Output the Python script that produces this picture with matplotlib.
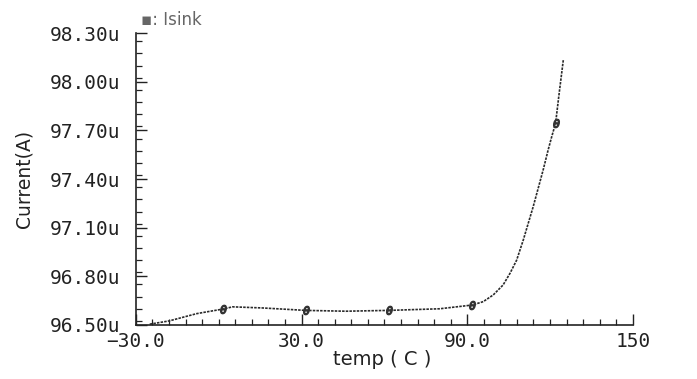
"""
Isink current vs temperature (SPICE-style plot)
"""

import matplotlib
matplotlib.use('Agg')

import matplotlib.pyplot as plt
from matplotlib.ticker import MultipleLocator
import numpy as np

# curve (temp in C, current in uA)
curve_temp = [-25, -18, -8, -3, 1.5, 5, 16, 31.5, 46, 61.5, 80, 91.8, 95.8,
              99.4, 103.0, 105.5, 107.9, 110.3, 112.1, 113.9, 115.7, 117.5,
              119.3, 120.6, 122.0, 123.3, 124.2, 124.8]
curve_cur = [96.505, 96.525, 96.57, 96.585, 96.598, 96.612, 96.605, 96.59,
             96.585, 96.59, 96.60, 96.623, 96.644, 96.685, 96.747, 96.819,
             96.90, 97.024, 97.127, 97.23, 97.343, 97.456, 97.579, 97.661,
             97.744, 97.929, 98.052, 98.134]

# simulated points (markers)
pt_temp = [1.5, 31.5, 61.5, 91.8, 122.0]
pt_cur = [96.598, 96.59, 96.59, 96.623, 97.744]

xticks = [-30, 30, 90, 150]
xlabels = ['\u221230.0', '30.0', '90.0', '150']
yticks = [96.50, 96.80, 97.10, 97.40, 97.70, 98.00, 98.30]
ylabels = [f'{v:.2f}u' for v in yticks]

ink = '#222222'
fig = plt.figure(figsize=(6.97, 3.79), dpi=100)
ax = fig.add_axes([0.195, 0.1425, 0.713, 0.770])

ax.plot(curve_temp, curve_cur, color='#2a2a2a', lw=1.2, ls=(0, (1.5, 0.7)))
ax.plot(pt_temp, pt_cur, ls='none', marker=r'$\theta$', ms=6, color='#333333')

ax.set_xlim(-30, 150)
ax.set_ylim(96.50, 98.30)
for s in ['top', 'right']:
    ax.spines[s].set_visible(False)
for s in ['left', 'bottom']:
    ax.spines[s].set_color(ink)
    ax.spines[s].set_linewidth(1.2)

ax.set_xticks(xticks)
ax.set_xticklabels(xlabels)
ax.set_yticks(yticks)
ax.set_yticklabels(ylabels)
ax.xaxis.set_minor_locator(MultipleLocator(6))
ax.yaxis.set_minor_locator(MultipleLocator(0.075))
ax.tick_params(which='major', direction='in', length=8, width=1.0, color=ink,
               labelsize=14, labelcolor=ink)
ax.tick_params(which='minor', direction='in', length=4, width=0.9, color=ink)
ax.tick_params(axis='y', which='major', pad=11)
ax.tick_params(axis='x', which='major', pad=5)
for lab in ax.get_xticklabels() + ax.get_yticklabels():
    lab.set_family('DejaVu Sans Mono')

ax.set_xlabel('temp ( C )', fontsize=14, color=ink)
ax.xaxis.set_label_coords(0.495, -0.085)
ax.set_ylabel('Current(A)', fontsize=13.5, color=ink, labelpad=12)

fig.text(0.203, 0.935, '\u25aa: Isink', fontsize=12, color='#666666')

plt.savefig('out.png', dpi=100)
plt.close()
